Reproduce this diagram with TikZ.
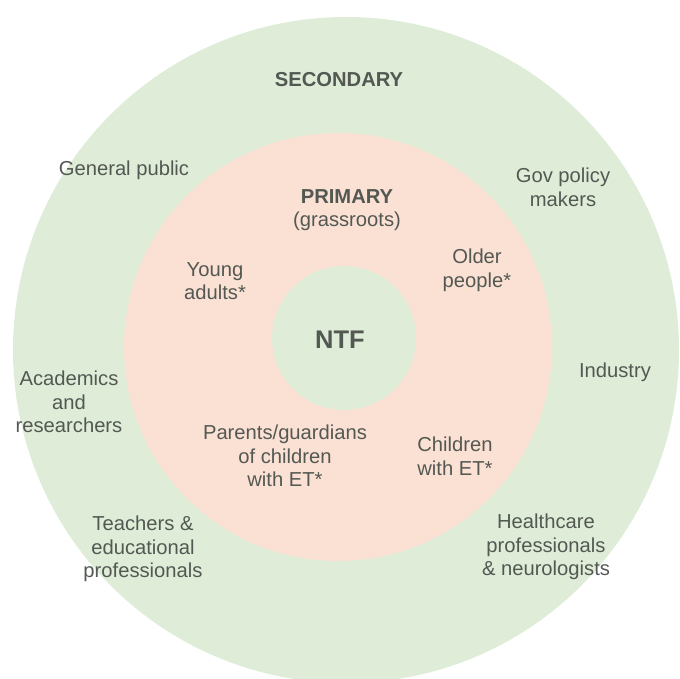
\documentclass[tikz,border=0pt]{standalone}
\usepackage{fontspec}
\setmainfont{Liberation Sans}
\definecolor{ringgreen}{HTML}{DFEDD8}
\definecolor{ringpink}{HTML}{FBE1D4}
\definecolor{txt}{HTML}{535853}
\begin{document}
\begin{tikzpicture}[x=1pt,y=-1pt,
  lbl/.style={text=txt,align=center,font=\fontsize{20.2}{23.6}\selectfont,inner sep=0pt},
  head/.style={lbl,font=\fontsize{20.2}{23.6}\selectfont\bfseries}]
\clip (0,0) rectangle (680,679);
\useasboundingbox (0,0) rectangle (680,679);
\fill[ringgreen] (346,350) circle[radius=333];
\fill[ringpink] (338,347) circle[radius=214];
\fill[ringgreen] (344,338) circle[radius=72];
\node[head] (sec) at (339,80) {SECONDARY};
\node[lbl] (gp) at (124,170) {General public};
\node[lbl] (gov) at (563,187) {Gov policy\\makers};
\node[lbl] (prim) at (347,210) {\textbf{PRIMARY}\\(grassroots)};
\node[lbl] (ya) at (215,281) {Young\\adults*};
\node[lbl] (op) at (477,270) {Older\\people*};
\node[text=txt,font=\fontsize{25.5}{30}\selectfont\bfseries,inner sep=0pt] (ntf) at (340,340) {NTF};
\node[lbl] (acad) at (69,402) {Academics\\and\\researchers};
\node[lbl] (ind) at (615,372) {Industry};
\node[lbl] (par) at (285,456) {Parents/guardians\\of children\\with ET*};
\node[lbl] (chi) at (455,456) {Children\\with ET*};
\node[lbl] (tea) at (143,549) {Teachers \&\\educational\\professionals};
\node[lbl] (hea) at (546,547) {Healthcare\\professionals\\\& neurologists};
\end{tikzpicture}
\end{document}
